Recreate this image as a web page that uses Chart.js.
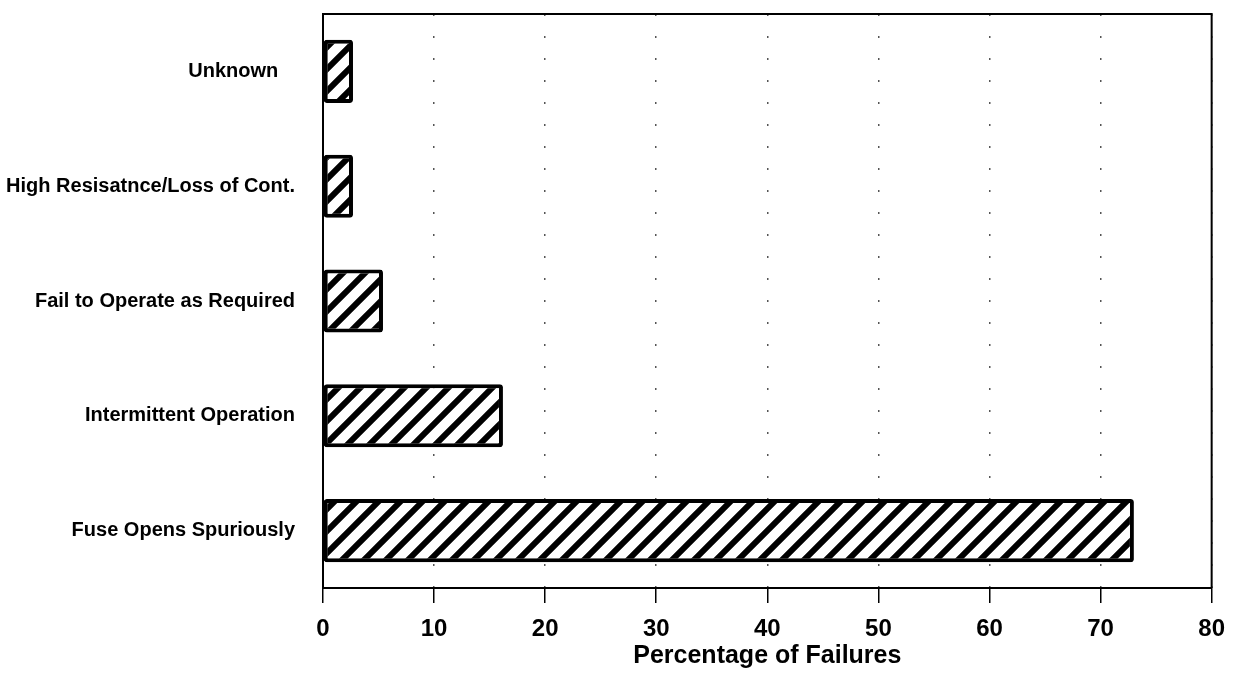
<!DOCTYPE html>
<html>
<head>
<meta charset="utf-8">
<script src="https://cdn.jsdelivr.net/npm/chart.js@4/dist/chart.umd.min.js"></script>
<style>
  body { margin: 0; background: #fff; }
  #wrap { width: 1239px; height: 679px; }
</style>
</head>
<body>
<div id="wrap"><canvas id="FailChart"></canvas></div>
<script>
var categories = [
  "Unknown   ",
  "High Resisatnce/Loss of Cont.",
  "Fail to Operate as Required",
  "Intermittent Operation",
  "Fuse Opens Spuriously"
];
var failurePct = [2.7, 2.7, 5.4, 16.2, 73.0];
var xTicks = [0, 10, 20, 30, 40, 50, 60, 70, 80];

// diagonal hatch fill like the scanned original
function makeHatch() {
  var s = 22;
  var c = document.createElement("canvas");
  c.width = s;
  c.height = s;
  var g = c.getContext("2d");
  g.fillStyle = "#fff";
  g.fillRect(0, 0, s, s);
  g.strokeStyle = "#000";
  g.lineWidth = 6;
  g.beginPath();
  for (var k = -1; k <= 1; k++) {
    // run past the tile edges so the butt caps don't leave gaps
    g.moveTo(k * s - s, 2 * s);
    g.lineTo(k * s + 2 * s, -s);
  }
  g.stroke();
  return g.createPattern(c, "repeat");
}

// top and right frame lines
var frame = {
  id: "frame",
  afterDraw: function (chart) {
    var a = chart.chartArea;
    var ctx = chart.ctx;
    ctx.save();
    ctx.strokeStyle = "#000";
    ctx.lineWidth = 2;
    ctx.beginPath();
    ctx.moveTo(a.left, a.top);
    ctx.lineTo(a.right, a.top);
    ctx.lineTo(a.right, a.bottom);
    ctx.stroke();
    ctx.restore();
  }
};

new Chart(document.getElementById("FailChart"), {
  type: "bar",
  data: {
    labels: categories,
    datasets: [
      {
        label: "Percentage of Failures",
        data: failurePct,
        backgroundColor: makeHatch(),
        borderColor: "#000",
        borderWidth: 4,
        borderRadius: 3,
        borderSkipped: false,
        barPercentage: 0.55,
        categoryPercentage: 1,
      },
    ],
  },
  options: {
    indexAxis: "y",
    responsive: true,
    maintainAspectRatio: false,
    animation: false,
    layout: {
      padding: { left: 0, top: 14, right: 27, bottom: 8 },
    },
    plugins: {
      legend: { display: false },
      tooltip: { enabled: false },
    },
    scales: {
      x: {
        min: 0,
        max: 80,
        afterBuildTicks: function (axis) {
          axis.ticks = xTicks.map(function (v) { return { value: v }; });
        },
        afterFit: function (axis) {
          axis.height = 83;
        },
        grid: {
          color: "#555",
          lineWidth: 1.5,
          tickColor: "#000",
          tickWidth: 1.5,
          tickLength: 15,
        },
        border: {
          color: "#000",
          width: 2,
          dash: [2, 20],
        },
        ticks: {
          color: "#000",
          padding: 14,
          font: { family: "Liberation Sans", size: 24, weight: "bold", lineHeight: 1 },
        },
        title: {
          display: true,
          text: "Percentage of Failures",
          color: "#000",
          padding: { top: 0, bottom: 0 },
          font: { family: "Liberation Sans", size: 25, weight: "bold" },
        },
      },
      y: {
        afterFit: function (axis) {
          axis.width = 323;
        },
        grid: {
          drawOnChartArea: false,
          drawTicks: true,
          tickLength: 28,
          tickColor: "rgba(0,0,0,0)",
        },
        border: { color: "#000", width: 2 },
        ticks: {
          color: "#000",
          padding: 0,
          font: { family: "Liberation Sans", size: 20, weight: "bold" },
        },
      },
    },
  },
  plugins: [frame],
});
</script>
</body>
</html>
